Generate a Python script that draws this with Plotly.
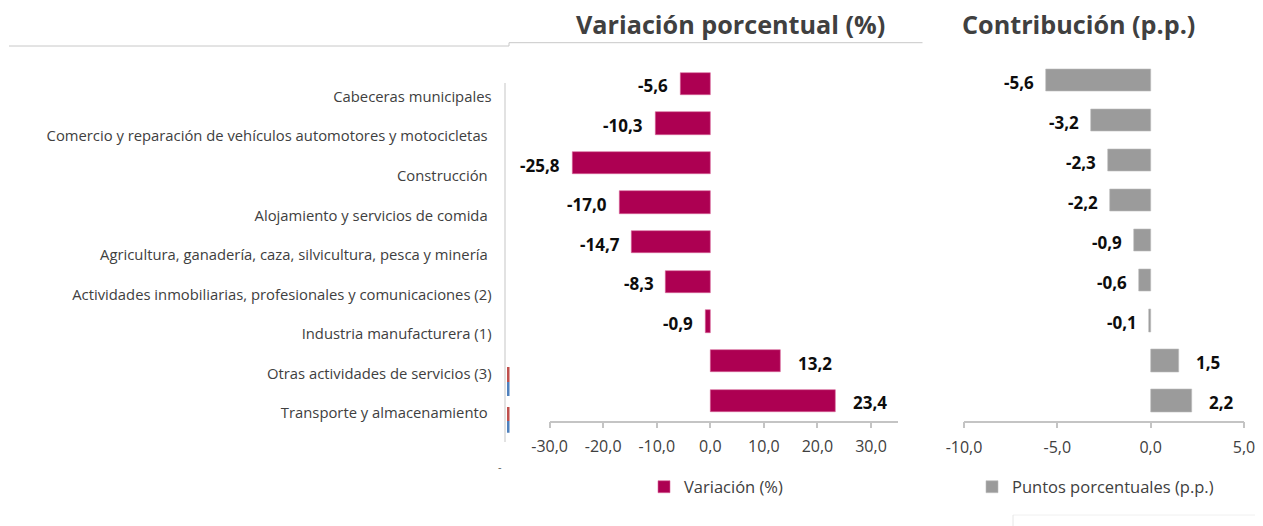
import plotly.graph_objects as go

# ---------------- data ----------------
categorias = [
    "Cabeceras municipales",
    "Comercio y reparación de vehículos automotores y motocicletas\u00a0",
    "Construcción\u00a0",
    "Alojamiento y servicios de comida\u00a0",
    "Agricultura, ganadería, caza, silvicultura, pesca y minería\u00a0",
    "Actividades inmobiliarias, profesionales y comunicaciones (2)",
    "Industria manufacturera (1)",
    "Otras actividades de servicios (3)",
    "Transporte y almacenamiento\u00a0",
]
variacion = [-5.6, -10.3, -25.8, -17.0, -14.7, -8.3, -0.9, 13.2, 23.4]
contribucion = [-5.6, -3.2, -2.3, -2.2, -0.9, -0.6, -0.1, 1.5, 2.2]
serie_roja = [None, None, None, None, None, None, None, 1, 1]
serie_azul = [None, None, None, None, None, None, None, 1, 1]

ticks_var = [-30, -20, -10, 0, 10, 20, 30]
ticks_var_text = ["-30,0", "-20,0", "-10,0", "0,0", "10,0", "20,0", "30,0"]
ticks_con = [-10, -5, 0, 5]
ticks_con_text = ["-10,0", "-5,0", "0,0", "5,0"]

titulo_var = "Variación porcentual (%)"
titulo_con = "Contribución (p.p.)"
leyenda_var = "Variación (%)"
leyenda_con = "Puntos porcentuales (p.p.)"

# ---------------- style ----------------
W, H = 1263, 526
OFF = 8  # page body margin of the html page
FONT = "Open Sans"
MAGENTA = "#AD0052"
GRIS = "#9B9B9B"
TXT = "#404040"
AXLINE = "#C4C4C4"


def px_x(p):
    return (p - OFF) / W


def px_y(p):
    return 1 - (p - OFF) / H


fig = go.Figure()

fig.add_trace(go.Bar(
    y=categorias, x=variacion, orientation="h", name=leyenda_var,
    marker=dict(color=MAGENTA, line=dict(color="#D8669A", width=0.6)),
    width=0.565, xaxis="x2", yaxis="y2", legend="legend", hoverinfo="x+y",
))
fig.add_trace(go.Bar(
    y=categorias, x=contribucion, orientation="h", name=leyenda_con,
    marker=dict(color=GRIS, line=dict(color="#BDBDBD", width=0.6)),
    width=0.56, xaxis="x3", yaxis="y3", legend="legend2", hoverinfo="x+y",
))
fig.add_trace(go.Bar(
    y=categorias, x=serie_roja, orientation="h", showlegend=False,
    marker=dict(color="#C0504D", line=dict(width=0)),
    width=0.37, offset=-0.16, xaxis="x4", yaxis="y4", hoverinfo="skip",
))
fig.add_trace(go.Bar(
    y=categorias, x=serie_azul, orientation="h", showlegend=False,
    marker=dict(color="#4F81BD", line=dict(width=0)),
    width=0.35, offset=0.21, xaxis="x4", yaxis="y4", hoverinfo="skip",
))

n = len(categorias)
cat_range = [n - 0.5, -0.5]

# data labels
annotations = []
for cat, v in zip(categorias, variacion):
    annotations.append(dict(
        x=v, y=cat, xref="x2", yref="y2", showarrow=False,
        text=f"{v:.1f}".replace(".", ","),
        xanchor="right" if v < 0 else "left",
        xshift=-10 if v < 0 else 15, yshift=-2,
        font=dict(family=FONT, size=17, color="#0D0D0D", weight="bold"),
    ))
for cat, v in zip(categorias, contribucion):
    annotations.append(dict(
        x=v, y=cat, xref="x3", yref="y3", showarrow=False,
        text=f"{v:.1f}".replace(".", ","),
        xanchor="right" if v < 0 else "left",
        xshift=-10 if v < 0 else 15, yshift=-2,
        font=dict(family=FONT, size=17, color="#0D0D0D", weight="bold"),
    ))

# panel titles
annotations.append(dict(
    x=px_x(730), y=px_y(24), xref="paper", yref="paper", showarrow=False,
    text=titulo_var, xanchor="center", yanchor="middle",
    font=dict(family=FONT, size=25.2, color=TXT, weight="bold"),
))
annotations.append(dict(
    x=px_x(1078), y=px_y(24), xref="paper", yref="paper", showarrow=False,
    text=titulo_con, xanchor="center", yanchor="middle",
    font=dict(family=FONT, size=25.2, color=TXT, weight="bold"),
))
annotations.append(dict(
    x=px_x(500), y=px_y(466), xref="paper", yref="paper", showarrow=False,
    text="-", xanchor="center", yanchor="middle",
    font=dict(family=FONT, size=11, color="#595959"),
))

shapes = [
    # frame lines of the original image panels
    dict(type="line", xref="paper", yref="paper", x0=px_x(9), x1=px_x(509),
         y0=px_y(46), y1=px_y(46), line=dict(color="#C8C8C8", width=1)),
    dict(type="line", xref="paper", yref="paper", x0=px_x(509), x1=px_x(509),
         y0=px_y(46), y1=px_y(42.7), line=dict(color="#C8C8C8", width=1)),
    dict(type="line", xref="paper", yref="paper", x0=px_x(509), x1=px_x(922.5),
         y0=px_y(42.7), y1=px_y(42.7), line=dict(color="#C8C8C8", width=1)),
    dict(type="line", xref="paper", yref="paper", x0=px_x(505), x1=px_x(505),
         y0=px_y(83), y1=px_y(442), line=dict(color="#D9D9D9", width=1.5)),
    dict(type="line", xref="paper", yref="paper", x0=px_x(1013), x1=px_x(1263),
         y0=px_y(515), y1=px_y(515), line=dict(color="#F0F0F0", width=1)),
    dict(type="line", xref="paper", yref="paper", x0=px_x(1013), x1=px_x(1013),
         y0=px_y(515), y1=px_y(526), line=dict(color="#E6E6E6", width=1)),
]

tickfont = dict(family=FONT, size=16, color=TXT)

fig.update_layout(
    width=W, height=H, autosize=False,
    margin=dict(l=0, r=0, t=0, b=0, pad=0, autoexpand=False),
    paper_bgcolor="white", plot_bgcolor="rgba(0,0,0,0)",
    font=dict(family=FONT, color=TXT),
    barmode="overlay",
    bargap=0,
    showlegend=True,
    # middle panel
    xaxis2=dict(
        domain=[px_x(549.6), px_x(897.8)], anchor="y2", range=[-30, 35],
        tickvals=ticks_var, ticktext=ticks_var_text, tickfont=tickfont,
        showgrid=False, zeroline=False, showline=True, linecolor=AXLINE,
        linewidth=1.5, ticks="outside", ticklen=6, tickwidth=1.5,
        tickcolor=AXLINE, ticklabelstandoff=5, fixedrange=True,
        automargin=False,
    ),
    yaxis2=dict(
        domain=[px_y(420.5), px_y(64)], anchor="x2", type="category",
        categoryorder="array", categoryarray=categorias, range=cat_range,
        showticklabels=False, showgrid=False, zeroline=False, showline=False,
        ticks="", fixedrange=True, automargin=False,
    ),
    # right panel
    xaxis3=dict(
        domain=[px_x(964), px_x(1244)], anchor="y3", range=[-10, 5],
        tickvals=ticks_con, ticktext=ticks_con_text, tickfont=tickfont,
        showgrid=False, zeroline=False, showline=True, linecolor=AXLINE,
        linewidth=1.5, ticks="outside", ticklen=6, tickwidth=1.5,
        tickcolor=AXLINE, ticklabelstandoff=5, fixedrange=True,
        automargin=False,
    ),
    yaxis3=dict(
        domain=[px_y(420.7), px_y(60.3)], anchor="x3", type="category",
        categoryorder="array", categoryarray=categorias, range=cat_range,
        showticklabels=False, showgrid=False, zeroline=False, showline=False,
        ticks="", fixedrange=True, automargin=False,
    ),
    # left label panel
    xaxis4=dict(
        domain=[px_x(506.5), px_x(509.5)], anchor="y4", range=[0, 1],
        visible=False, fixedrange=True, automargin=False,
    ),
    yaxis4=dict(
        domain=[px_y(432.8), px_y(77)], anchor="x4", type="category",
        categoryorder="array", categoryarray=categorias, range=cat_range,
        showticklabels=True, tickfont=dict(family=FONT, size=14.8, color=TXT),
        ticklabelstandoff=14, showgrid=False, zeroline=False, showline=False,
        ticks="", fixedrange=True, automargin=False,
    ),
    xaxis=dict(visible=False),
    yaxis=dict(visible=False),
    legend=dict(
        x=px_x(644), y=px_y(487), xanchor="left", yanchor="middle",
        orientation="h", bgcolor="rgba(0,0,0,0)", borderwidth=0,
        font=dict(family=FONT, size=16.5, color=TXT),
    ),
    legend2=dict(
        x=px_x(972), y=px_y(487), xanchor="left", yanchor="middle",
        orientation="h", bgcolor="rgba(0,0,0,0)", borderwidth=0,
        font=dict(family=FONT, size=16.5, color=TXT),
    ),
    annotations=annotations,
    shapes=shapes,
)

fig.write_html("out.html", config={"displayModeBar": False})
